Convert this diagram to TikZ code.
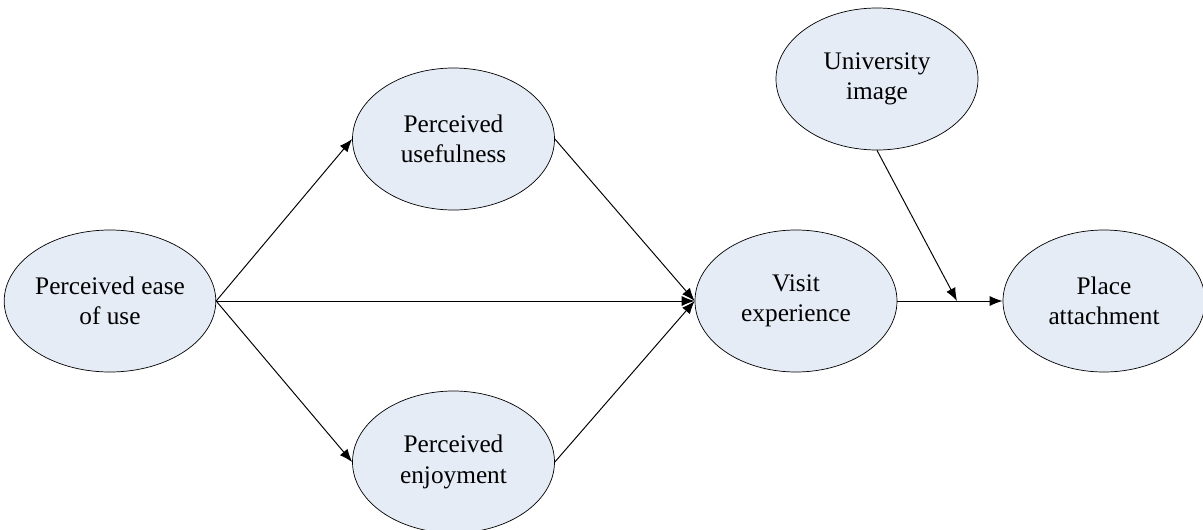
\documentclass[tikz,border=0pt]{standalone}
\usepackage{fontspec}
\setmainfont{Liberation Serif}
\usetikzlibrary{shapes.geometric,arrows.meta}
\definecolor{ovalfill}{RGB}{230,236,246}

\begin{document}
\begin{tikzpicture}[
    construct/.style={ellipse,draw,thin,fill=ovalfill,minimum width=4.04cm,minimum height=2.84cm,
      inner sep=0pt,align=center,font=\fontsize{14.4}{17.3}\selectfont},
    path/.style={-{Latex[length=2.6mm,width=2mm]},line width=0.55pt}]
      \useasboundingbox (0,0) rectangle (24.06,10.58);
      \begin{scope}
      \clip (0,0) rectangle (24.06,10.58);
      \node[construct] (ease) at (2.20,4.56) {Perceived ease\\of use}; % exogenous
      \node[construct] (useful) at (9.07,7.80) {Perceived\\usefulness}; % upper mediator
      \node[construct] (enjoy) at (9.07,1.34) {Perceived\\enjoyment}; % lower mediator
      \node[construct] (visit) at (15.92,4.56) {Visit\\experience};
      \node[construct] (univ) at (17.54,9.00) {University\\image}; % moderator
      \node[construct] (place) at (22.08,4.56) {Place\\attachment};
      \end{scope}

      \draw[path] (ease.east) -- (useful.west);
      \draw[path] (ease.east) -- (enjoy.west);
      \draw[path] (ease.east) -- (visit.west);
      \draw[path] (useful.east) -- (visit.west);
      \draw[path] (enjoy.east) -- (visit.west);

      \coordinate (mod) at (19.14,4.56); % moderation point
      \draw[path] (visit.east) -- (place.west);
      \draw[path] (univ.south) -- (mod);
    \end{tikzpicture}
\end{document}
